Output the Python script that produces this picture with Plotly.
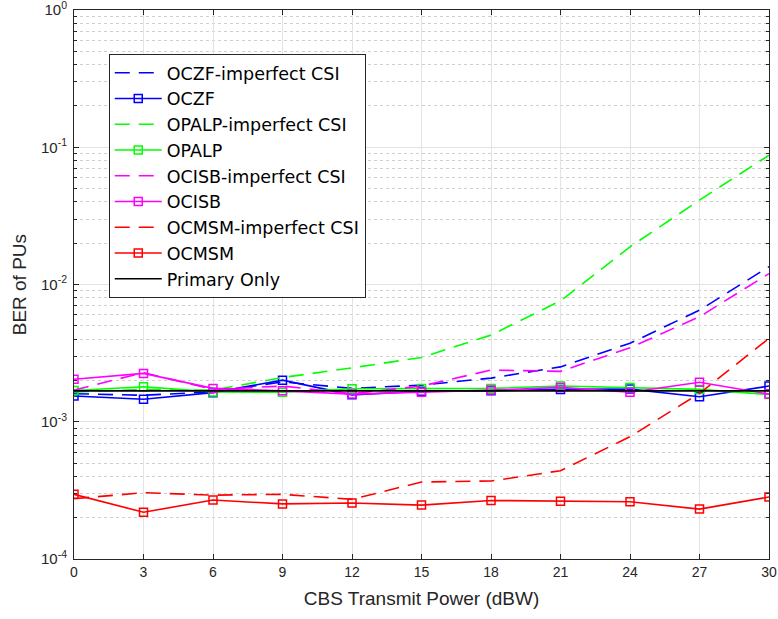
import plotly.graph_objects as go

# CBS transmit power (dBW)
power_dbw = [0, 3, 6, 9, 12, 15, 18, 21, 24, 27, 30]

# BER of primary users for each scheme
oczf_imperfect = [1.60e-3, 1.56e-3, 1.65e-3, 1.95e-3, 1.75e-3, 1.85e-3, 2.08e-3, 2.51e-3, 3.73e-3, 6.5e-3, 1.35e-2]
oczf = [1.54e-3, 1.46e-3, 1.63e-3, 2.01e-3, 1.57e-3, 1.67e-3, 1.68e-3, 1.72e-3, 1.73e-3, 1.52e-3, 1.82e-3]
opalp_imperfect = [1.65e-3, 1.72e-3, 1.70e-3, 2.10e-3, 2.47e-3, 2.94e-3, 4.28e-3, 7.6e-3, 1.88e-2, 4.12e-2, 8.75e-2]
opalp = [1.69e-3, 1.80e-3, 1.65e-3, 1.64e-3, 1.74e-3, 1.75e-3, 1.75e-3, 1.82e-3, 1.78e-3, 1.72e-3, 1.58e-3]
ocisb_imperfect = [1.70e-3, 2.28e-3, 1.72e-3, 1.82e-3, 1.60e-3, 1.82e-3, 2.38e-3, 2.33e-3, 3.46e-3, 5.82e-3, 1.2e-2]
ocisb = [2.04e-3, 2.25e-3, 1.75e-3, 1.68e-3, 1.59e-3, 1.64e-3, 1.70e-3, 1.78e-3, 1.64e-3, 1.94e-3, 1.59e-3]
ocmsm_imperfect = [2.75e-4, 3.04e-4, 2.92e-4, 2.96e-4, 2.72e-4, 3.64e-4, 3.70e-4, 4.40e-4, 7.78e-4, 1.61e-3, 4.05e-3]
ocmsm = [2.96e-4, 2.19e-4, 2.69e-4, 2.52e-4, 2.56e-4, 2.47e-4, 2.67e-4, 2.64e-4, 2.61e-4, 2.31e-4, 2.83e-4]
primary_only = [1.68e-3] * 11

y_tick_vals = [1e-4, 1e-3, 1e-2, 1e-1, 1e0]
y_tick_text = ["10<sup>-4</sup>", "10<sup>-3</sup>", "10<sup>-2</sup>", "10<sup>-1</sup>", "10<sup>0</sup>"]

series = [
    ("OCZF-imperfect CSI", oczf_imperfect, "#0000FF", True),
    ("OCZF", oczf, "#0000FF", False),
    ("OPALP-imperfect CSI", opalp_imperfect, "#00FF00", True),
    ("OPALP", opalp, "#00FF00", False),
    ("OCISB-imperfect CSI", ocisb_imperfect, "#FF00FF", True),
    ("OCISB", ocisb, "#FF00FF", False),
    ("OCMSM-imperfect CSI", ocmsm_imperfect, "#FF0000", True),
    ("OCMSM", ocmsm, "#FF0000", False),
]

FONT = "Liberation Sans, Arial, sans-serif"
LEGEND_FONT = "DejaVu Sans, Liberation Sans, sans-serif"
INK = "#262626"

fig = go.Figure()
for name, vals, color, dashed in series:
    if dashed:
        fig.add_trace(go.Scatter(
            x=power_dbw, y=vals, name=name, mode="lines",
            line=dict(color=color, width=1.6, dash="15px,9px"),
        ))
    else:
        fig.add_trace(go.Scatter(
            x=power_dbw, y=vals, name=name, mode="lines+markers",
            line=dict(color=color, width=1.6),
            marker=dict(symbol="square-open", size=8, color=color, line=dict(width=1.5, color=color)),
        ))

fig.add_trace(go.Scatter(
    x=power_dbw, y=primary_only, name="Primary Only", mode="lines",
    line=dict(color="black", width=1.6),
))

fig.update_layout(
    width=778, height=619,
    margin=dict(l=74, r=9, t=10, b=60),
    paper_bgcolor="white", plot_bgcolor="white",
    font=dict(family=FONT, size=14, color=INK),
    showlegend=True,
    legend=dict(
        x=0.050, y=0.920, xanchor="left", yanchor="top",
        bgcolor="white", bordercolor=INK, borderwidth=1,
        font=dict(family=LEGEND_FONT, size=17.5, color="black"),
        itemwidth=47, tracegroupgap=0,
    ),
    xaxis=dict(
        range=[0, 30], tickvals=power_dbw, ticks="inside", ticklen=5,
        tickcolor=INK, showline=True, linecolor=INK, linewidth=1,
        mirror="allticks", showgrid=True, gridcolor="#E3E3E3", gridwidth=1,
        zeroline=False, tickfont=dict(family=FONT, size=14, color=INK),
        automargin="bottom", ticklabeloverflow="allow",
        title=dict(text="CBS Transmit Power (dBW)",
                   font=dict(family=FONT, size=19, color=INK), standoff=12),
    ),
    yaxis=dict(
        type="log", range=[-4, 0], tickvals=y_tick_vals, ticktext=y_tick_text,
        ticks="inside", ticklen=5, tickcolor=INK,
        showline=True, linecolor=INK, linewidth=1, mirror="allticks",
        showgrid=True, gridcolor="#E3E3E3", gridwidth=1, zeroline=False,
        tickfont=dict(family=FONT, size=15, color=INK), automargin=False,
        ticklabeloverflow="allow", ticklabelstandoff=3,
        minor=dict(ticks="inside", ticklen=3, tickcolor=INK, dtick="D1",
                   showgrid=True, gridcolor="#CFCFCF", griddash="dot", gridwidth=1),
    ),
    annotations=[dict(
        text="BER of PUs", textangle=-90, showarrow=False,
        xref="paper", yref="paper", x=-0.078, y=0.5,
        xanchor="center", yanchor="middle",
        font=dict(family=FONT, size=19, color=INK),
    )],
)

fig.write_html("out.html")
